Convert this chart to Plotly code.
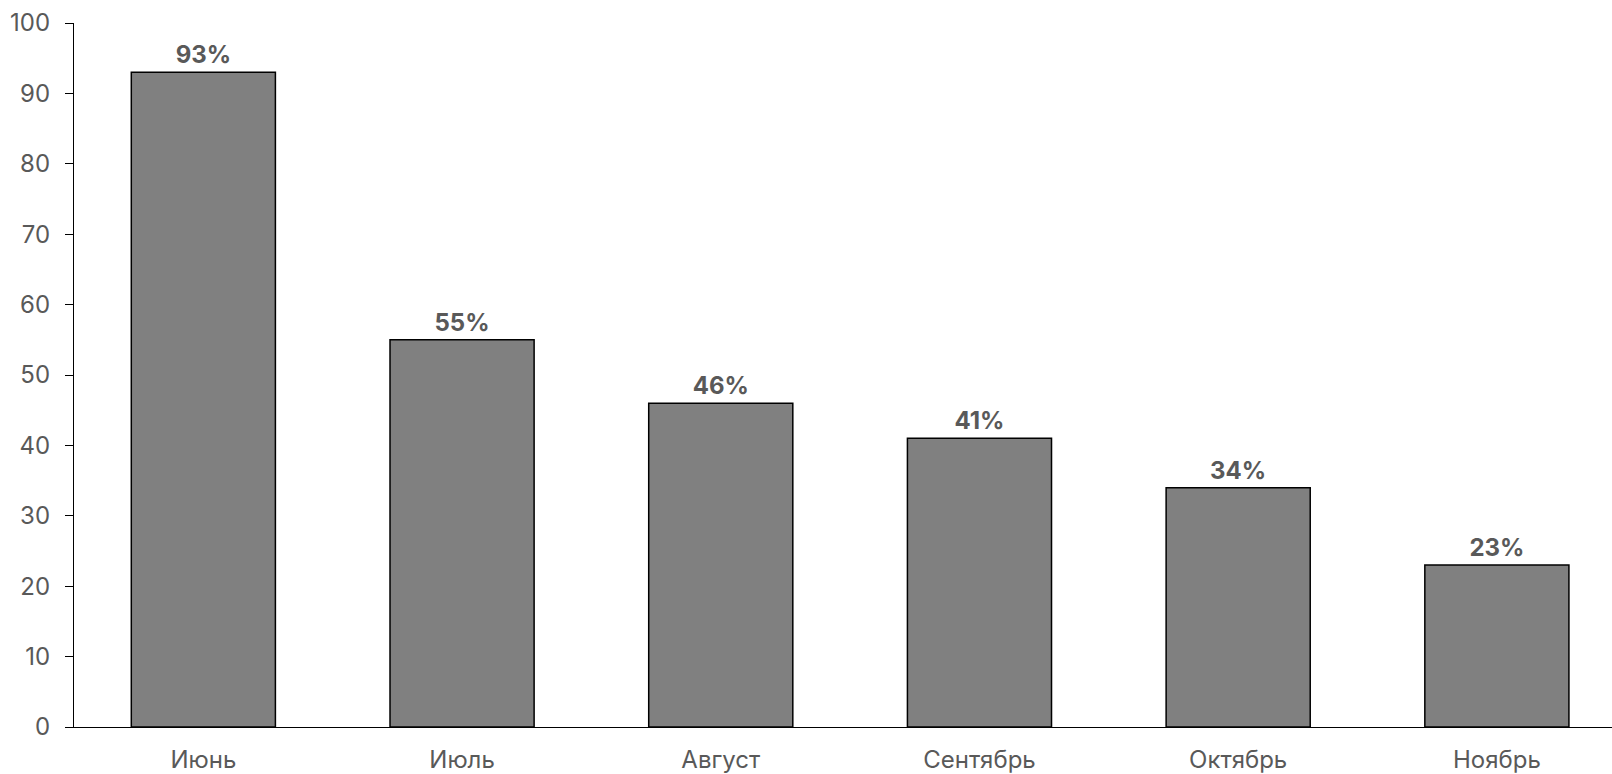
import plotly.graph_objects as go

months = ["Июнь", "Июль", "Август", "Сентябрь", "Октябрь", "Ноябрь"]
values = [93, 55, 46, 41, 34, 23]
labels = [f"{v}%" for v in values]

FONT = "Inter, Liberation Sans, Arial"

fig = go.Figure(go.Bar(
    x=months, y=values, text=labels, textposition="outside",
    textfont=dict(family=FONT, size=24, color="#595959", weight="bold"),
    marker=dict(color="#808080", line=dict(color="#000000", width=1.5)),
    width=0.557, cliponaxis=False,
))

fig.update_layout(
    width=1612, height=774,
    margin=dict(l=74, r=0, t=23, b=47),
    plot_bgcolor="white", paper_bgcolor="white",
    showlegend=False,
    font=dict(family=FONT, size=24, color="#595959"),
    xaxis=dict(range=[-0.5, 5.445], showline=True, linecolor="black", linewidth=1.3, ticks="",
               showgrid=False, tickfont=dict(size=24, color="#595959"), ticklabelstandoff=11),
    yaxis=dict(range=[0, 100], dtick=10, showline=True, linecolor="black", linewidth=1.3,
               ticks="outside", ticklen=8, tickcolor="black", tickwidth=1.3,
               showgrid=False, zeroline=False, tickfont=dict(size=24, color="#595959"),
               ticklabelstandoff=10),
)

fig.write_html("out.html")
